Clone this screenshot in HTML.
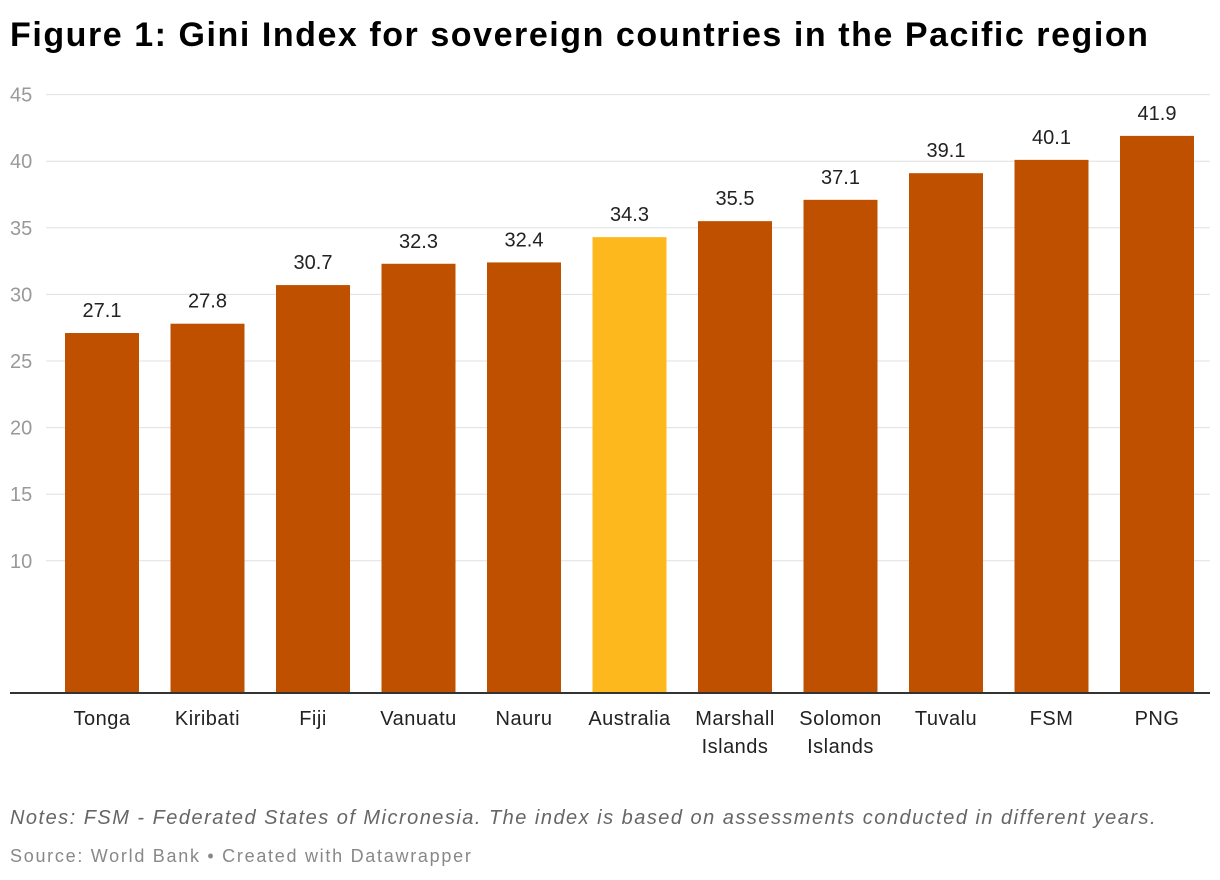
<!DOCTYPE html>
<html><head><meta charset="utf-8">
<style>
body{margin:0;background:#fff;font-family:"Liberation Sans",sans-serif;}
#wrap{position:relative;width:1220px;height:880px;overflow:hidden;}
h1{position:absolute;left:10px;top:16px;margin:0;font-size:34px;font-weight:bold;color:#000;letter-spacing:1.55px;white-space:nowrap;}
.notes{position:absolute;left:10px;top:807px;font-size:20px;font-style:italic;color:#666;letter-spacing:1.48px;white-space:nowrap;}
.source{position:absolute;left:10px;top:846px;font-size:18px;color:#888;letter-spacing:1.72px;white-space:nowrap;}
</style></head>
<body>
<div id="wrap">
<h1>Figure 1: Gini Index for sovereign countries in the Pacific region</h1>
<svg id="chart" width="1220" height="880" style="position:absolute;left:0;top:0"></svg>
<div class="notes">Notes: FSM - Federated States of Micronesia. The index is based on assessments conducted in different years.</div>
<div class="source">Source: World Bank • Created with Datawrapper</div>
</div>
<script>
const categories=["Tonga","Kiribati","Fiji","Vanuatu","Nauru","Australia","Marshall Islands","Solomon Islands","Tuvalu","FSM","PNG"];
const values=[27.1,27.8,30.7,32.3,32.4,34.3,35.5,37.1,39.1,40.1,41.9];
const highlight=["Australia"];
const ticks=[10,15,20,25,30,35,40,45];
const NS="http://www.w3.org/2000/svg";
const svg=document.getElementById('chart');
const y0=694, pxPerUnit=13.32;
function y(v){return y0-v*pxPerUnit;}
function x(i){return 65+i*105.5;}
const bw=74;
function mk(t,a){const e=document.createElementNS(NS,t);for(const k in a)e.setAttribute(k,a[k]);svg.appendChild(e);return e;}
ticks.forEach(t=>{
  const l=mk('line',{x1:46,x2:1210,y1:y(t),y2:y(t),stroke:'#e0e0e0','stroke-width':1});
  
  
  const tx=mk('text',{x:10,y:y(t)+7,'font-size':20,fill:'#999','font-family':'Liberation Sans, sans-serif'});
  tx.textContent=t;
  
  
});
categories.forEach((c,i)=>{
  const v=values[i];
  const r=mk('rect',{x:x(i),y:y(v),width:bw,height:y0-y(v),fill:highlight.includes(c)?'#fdb81e':'#bf5000'});
  
  
  const vl=mk('text',{x:x(i)+bw/2,y:y(v)-16,'text-anchor':'middle','font-size':20,fill:'#222','font-family':'Liberation Sans, sans-serif'});
  vl.textContent=v.toFixed(1);
  
  
  const parts=c.split(' ');
  parts.forEach((p,j)=>{
    const cl=mk('text',{x:x(i)+bw/2,y:725+j*28,'text-anchor':'middle','font-size':20,fill:'#222','font-family':'Liberation Sans, sans-serif','letter-spacing':'0.5'});
    cl.textContent=p;
    
    
  });
});
const base=mk('line',{x1:10,x2:1210,y1:y0-1,y2:y0-1,stroke:'#333','stroke-width':2});


</script>
</body></html>
